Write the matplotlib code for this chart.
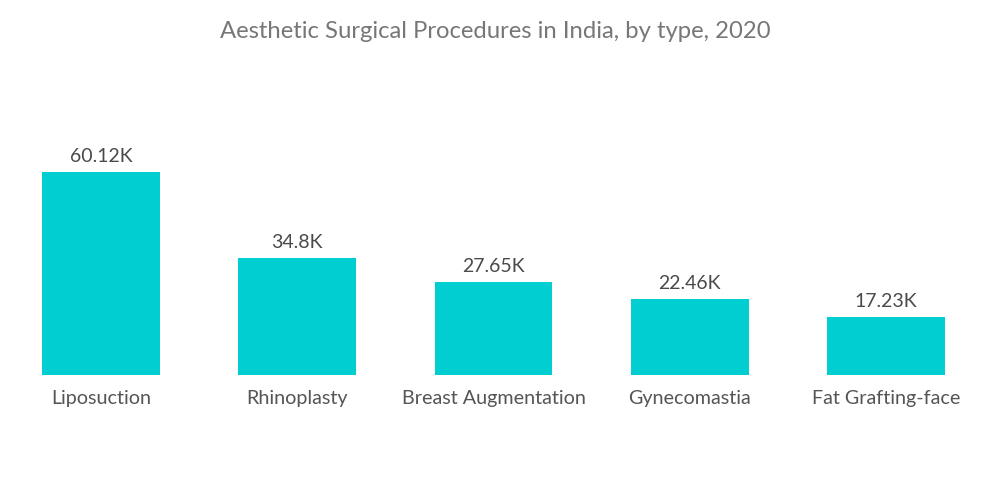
import matplotlib
matplotlib.use("Agg")
import matplotlib.pyplot as plt

categories = ["Liposuction", "Rhinoplasty", "Breast Augmentation", "Gynecomastia", "Fat Grafting-face"]
values = [60.12, 34.8, 27.65, 22.46, 17.23]
value_labels = ["60.12K", "34.8K", "27.65K", "22.46K", "17.23K"]

plt.rcParams['font.family'] = ['Lato', 'DejaVu Sans']

fig = plt.figure(figsize=(10, 5.04), dpi=100)
ax = fig.add_axes([3/1000, 1 - 375/504, 981/1000, 253.2/504])
x = list(range(len(categories)))
bars = ax.bar(x, values, width=0.6, color="#00CED1")
ax.set_xlim(-0.5, 4.5)
ax.set_ylim(0, 75)
for xi, v, lab in zip(x, values, value_labels):
    ax.annotate(lab, (xi, v), xytext=(0, 5), textcoords="offset points",
                ha="center", va="bottom", fontsize=14, color="#4a4a4a")
ax.set_xticks(x)
ax.set_xticklabels(categories, fontsize=14.2, color="#555555")
ax.tick_params(axis="x", length=0, pad=10.5)
ax.set_yticks([])
for s in ax.spines.values():
    s.set_visible(False)
fig.text(0.495, 1 - 31/504, "Aesthetic Surgical Procedures in India, by type, 2020",
         ha="center", va="center", fontsize=17.2, color="#777777")
fig.savefig("out.png", dpi=100)
